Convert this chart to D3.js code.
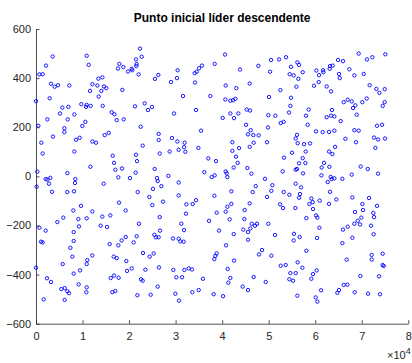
<!DOCTYPE html>
<html>
<head>
<meta charset="utf-8">
<script src="https://cdn.jsdelivr.net/npm/d3@7"></script>
<style>
  body { margin: 0; background: #fff; }
  svg { display: block; font-family: "Liberation Sans", Arial, sans-serif; }
</style>
</head>
<body>
<div id="chart"></div>
<script>
// data
const xVals = [
  3580,10890,2150,11320,17910,17620,18770,720,1430,13400,14260,3220,4010,4730,7160,12110,13180,14610,15110,14040,
  11600,18550,13470,2940,0,9740,10890,10750,11750,14330,5660,6950,16260,16830,5160,8240,2440,6810,10600,17340,18840,
  22350,21490,22710,21630,21560,20560,20700,19770,22060,26290,25570,30440,30300,29010,34100,34530,35030,35670,38390,
  34170,31590,37460,21280,23350,24930,24070,29660,34380,
  40620,50500,52220,53730,56160,56520,43840,47780,54800,50290,54510,55370,57310,56380,40760,43050,45920,55950,59740,
  52510,50070,54800,40690,41760,42340,42840,45270,45990,54660,58600,41760,43480,42550,40120,49930,51430,54370,58020,
  45130,52580,53220,58380,
  69340,75070,71130,72280,64900,65970,60240,61680,61750,63180,63750,63110,60820,67340,65110,65260,68410,70420,60750,
  62460,63400,71700,73140,74930,73780,71060,70130,66120,66980,67840,68620,68120,74930,74500,63610,62460,63400,64110,
  68910,65470,
  500,6090,6090,9960,3650,1150,1430,8600,9380,12110,12890,14760,15620,8240,16480,16760,17050,18480,11680,290,6730,
  17690,2080,2440,3080,8450,8380,2790,14540,140,3440,6730,8170,17840,9670,8020,12110,19270,5870,4590,9100,10890,
  14260,15970,
  22490,26360,26360,29230,30370,31950,35460,22920,31810,30660,32090,28720,26580,34890,21490,21710,37030,38680,25500,
  21420,20200,26000,26150,28440,36170,37750,38390,30660,26930,25140,21850,24360,27290,25000,30660,38320,32310,33670,
  34380,26580,32230,22130,31230,37180,38820,
  46130,45560,46710,47850,49860,42190,43630,45920,46780,49640,55800,56090,56230,57590,58880,42190,42980,43340,42480,
  40760,40980,41120,45420,46280,55010,57950,57310,53300,56520,57880,55800,56090,57380,53010,49210,50790,47210,46560,
  50570,49640,55800,56950,56730,53220,54440,56520,41980,59170,58740,59460,41980,41120,40760,45920,52440,53080,55730,
  44840,59530,41620,44770,58090,46350,47490,49930,
  60170,61600,62970,64110,68410,69340,73280,74360,66480,68770,72640,73500,75000,64260,62970,63680,72920,61890,61390,
  63040,69770,71280,73500,61320,63320,64110,63540,65830,67840,62680,63180,60960,62970,64540,67980,71560,70130,73280,
  70270,68550,72490,72640,60170,60460,69910,69130,68410,69630,
  720,2080,9240,13900,15260,8100,1080,1430,8100,7380,19270,18410,17690,15830,7810,11030,12110,10890,5730,16690,17340,
  19410,0,9460,8100,19560,2360,3220,16050,16760,17760,9170,10890,10820,5440,6160,6730,7090,16400,17050,1650,6160,
  26650,31810,39330,21630,25430,25790,26360,29440,30660,31020,31730,20990,22990,24430,25290,38820,38540,38320,20560,
  23500,26430,29510,31880,32810,33520,22560,22920,30160,31380,35890,26150,21780,24640,29940,33600,34960,38180,30730,
  44560,45560,46060,47060,42480,45560,51360,55440,56660,55370,40830,48570,47920,50570,58090,42550,56230,57230,52580,
  53650,41190,54660,55800,59530,59170,41760,41330,46780,54440,55230,49360,44410,45560,40190,56160,
  60890,65970,66980,71990,60390,67980,65830,72560,74500,72130,72130,66760,74500,74710,60320,69700,73710,66120,66910,
  61250,65110,64760,68480,71350,73930,60100,60460
];
const yVals = [
  488,491,451,454,458,439,445,415,416,398,403,377,365,371,370,375,370,366,359,348,
  348,352,325,318,306,294,291,283,287,287,280,283,261,253,256,252,232,232,222,229,232,
  520,476,487,457,449,438,432,427,415,413,397,432,400,384,420,426,440,451,458,
  382,327,327,285,297,282,270,256,270,
  496,474,476,485,464,454,435,450,446,426,416,411,424,397,370,359,378,365,369,
  351,323,320,313,308,310,316,272,268,287,272,256,256,237,238,249,247,260,247,
  210,217,222,210,
  500,497,476,485,474,469,431,432,424,449,451,438,412,436,417,400,411,417,384,
  366,346,371,356,355,340,317,302,302,312,305,289,278,302,287,270,241,247,244,
  251,225,
  206,196,180,205,162,137,93,149,157,142,137,168,177,101,84,55,27,32,39,19,13,
  -4,-11,-13,-6,-11,-27,-30,-30,-42,-63,-64,-61,-107,-120,-139,-143,-139,-168,-186,-174,-171,
  -164,-159,
  202,173,148,156,142,137,186,125,119,108,100,101,93,116,88,62,73,62,30,
  15,-7,-7,-19,2,17,-3,4,-25,-40,-51,-64,-84,-103,-117,-78,-79,-114,-113,
  -97,-166,-152,-193,-193,-181,-148,
  188,171,168,167,199,139,115,120,137,139,154,169,135,131,134,104,80,55,36,
  20,12,-3,34,11,96,101,74,76,53,54,27,30,12,20,-10,-36,-40,-64,
  -59,-84,-30,-45,-72,-64,-75,-87,-61,-90,-113,-105,-112,-124,-144,-110,-114,-129,-129,
  -137,-133,-175,-174,-170,-193,-193,-193,
  183,180,181,186,188,186,206,210,153,139,158,150,154,120,101,91,116,55,36,
  39,40,30,11,4,-2,-8,-11,-10,7,-23,-63,-99,-112,-94,-86,-88,-113,-120,
  -137,-145,-149,-166,-159,-168,-168,-181,-193,-196,
  -209,-221,-204,-201,-206,-227,-266,-269,-263,-291,-247,-261,-281,-276,-327,-341,-322,-357,-357,-327,-333,
  -345,-372,-383,-396,-385,-415,-430,-414,-404,-413,-440,-452,-472,-459,-455,-468,-476,-472,-467,-501,-503,
  -221,-219,-221,-244,-238,-248,-248,-253,-254,-265,-266,-269,-312,-327,-314,-314,-324,-337,-375,
  -380,-371,-381,-381,-375,-379,-419,-425,-411,-411,-417,-449,-484,-482,-478,-472,-463,-480,-506,
  -217,-227,-212,-201,-235,-258,-239,-234,-247,-261,-281,-300,-318,-323,-303,-343,-350,-372,-364,
  -361,-377,-394,-394,-398,-417,-414,-433,-410,-419,-425,-430,-449,-463,-488,-486,
  -209,-217,-205,-201,-251,-250,-272,-236,-315,-320,-339,-339,-361,-365,-383,-406,-407,-442,-441,
  -464,-463,-474,-472,-478,-480,-493,-510
];
const xTicks = [0, 1, 2, 3, 4, 5, 6, 7, 8];
const yTicks = [-600, -400, -200, 0, 200, 400, 600];
const titleText = "Punto inicial líder descendente";

const width = 412, height = 363;
const plotLeft = 36, plotRight = 408.3, plotTop = 29, plotBottom = 323.7;
const axisColor = "#262626";

const svg = d3.select("#chart").append("svg")
  .attr("width", width)
  .attr("height", height);

const x = d3.scaleLinear().domain([0, 80000]).range([plotLeft, plotRight]);
const y = d3.scaleLinear().domain([-600, 600]).range([plotBottom, plotTop]);

// x axis (ticks inward)
const xAxis = svg.append("g")
  .attr("transform", "translate(0," + plotBottom + ")")
  .call(d3.axisBottom(x)
    .tickValues(xTicks.map(d => d * 10000))
    .tickFormat(d => d / 10000)
    .tickSizeInner(-3.5).tickSizeOuter(0).tickPadding(9));

// y axis (ticks inward)
const yAxis = svg.append("g")
  .attr("transform", "translate(" + plotLeft + ",0)")
  .call(d3.axisLeft(y)
    .tickValues(yTicks)
    .tickSizeInner(-3.5).tickSizeOuter(0).tickPadding(5));

[xAxis, yAxis].forEach(g => {
  g.select(".domain").attr("stroke", axisColor).attr("stroke-width", 0.8);
  g.selectAll(".tick line").attr("stroke", axisColor).attr("stroke-width", 0.8);
  g.selectAll(".tick text")
    .attr("fill", axisColor)
    .style("font-size", "11px")
    .style("font-family", "'Liberation Sans', Arial, sans-serif");
});

// exponent label
const expo = svg.append("text")
  .attr("x", 387)
  .attr("y", 359)
  .attr("fill", axisColor)
  .style("font-size", "11px");
expo.append("tspan").text("×10");
expo.append("tspan").attr("dy", -5).style("font-size", "9px").text("4");

// title
svg.append("text")
  .attr("x", (plotLeft + plotRight) / 2)
  .attr("y", 22)
  .attr("text-anchor", "middle")
  .attr("fill", "#000")
  .style("font-size", "12px")
  .style("font-weight", "bold")
  .text(titleText);

// points
svg.append("g")
  .selectAll("circle")
  .data(xVals.map((d, i) => [d, yVals[i]]))
  .enter()
  .append("circle")
  .attr("cx", d => x(d[0]))
  .attr("cy", d => y(d[1]))
  .attr("r", 1.7)
  .attr("fill", "none")
  .attr("stroke", "#0000ff")
  .attr("stroke-width", 0.9);
</script>
</body>
</html>
